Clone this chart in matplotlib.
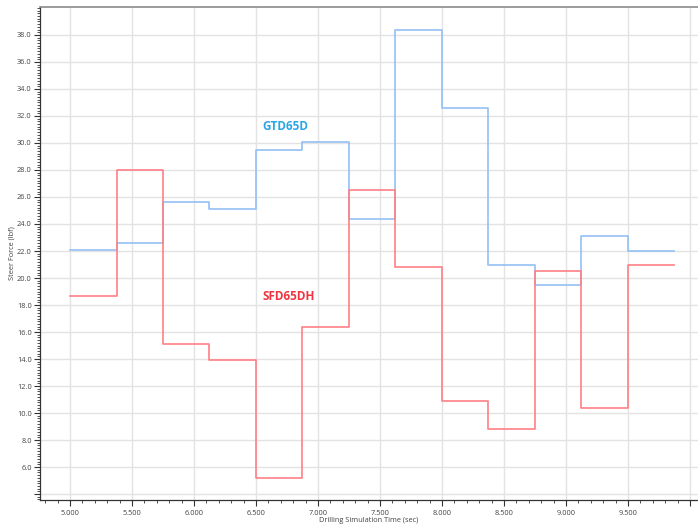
import numpy as np
import matplotlib
matplotlib.use("Agg")
import matplotlib.pyplot as plt
from matplotlib.ticker import MultipleLocator, FixedLocator, FixedFormatter

plt.rcParams["font.family"] = ["Open Sans", "DejaVu Sans"]

# step boundaries (sec) and steer force per interval (lbf)
time_edges = [5.0, 5.375, 5.75, 6.125, 6.5, 6.875, 7.25, 7.625, 8.0, 8.375, 8.75, 9.125, 9.5, 9.875]
gtd65d = [22.05, 22.6, 25.6, 25.1, 29.5, 30.1, 24.4, 38.4, 32.6, 21.0, 19.5, 23.1, 22.0]
sfd65dh = [18.7, 28.0, 15.1, 13.9, 5.2, 16.4, 26.5, 20.8, 10.9, 8.8, 20.5, 10.4, 21.0]

y_ticks = [4.0, 6.0, 8.0, 10.0, 12.0, 14.0, 16.0, 18.0, 20.0, 22.0, 24.0, 26.0, 28.0,
           30.0, 32.0, 34.0, 36.0, 38.0]
x_ticks = [5.0, 5.5, 6.0, 6.5, 7.0, 7.5, 8.0, 8.5, 9.0, 9.5, 10.0]

fig = plt.figure(figsize=(6.98, 5.27), dpi=100)
ax = fig.add_axes([40 / 698, 27 / 527, 658 / 698, 493 / 527])

blue = "#93c0f3"
red = "#ff7f85"
ax.step(time_edges, gtd65d + [gtd65d[-1]], where="post", color=blue, linewidth=1.2, zorder=3)
ax.step(time_edges, sfd65dh + [sfd65dh[-1]], where="post", color=red, linewidth=1.2, zorder=3)

ax.text(6.55, 31.25, "GTD65D", color="#2ba6e4", fontsize=8.5, fontweight="bold",
        ha="left", va="center")
ax.text(6.55, 18.6, "SFD65DH", color="#f0343f", fontsize=8.5, fontweight="bold",
        ha="left", va="center")

ax.set_xlim(4.758, 10.065)
ax.set_ylim(3.56, 40.07)

ax.xaxis.set_major_locator(FixedLocator(x_ticks))
ax.xaxis.set_major_formatter(FixedFormatter([f"{v:.3f}" for v in x_ticks[:-1]] + [""]))
ax.xaxis.set_minor_locator(MultipleLocator(0.1))
ax.yaxis.set_major_locator(FixedLocator(y_ticks))
ax.yaxis.set_major_formatter(FixedFormatter([""] + [f"{v:.1f}" for v in y_ticks[1:]]))
ax.yaxis.set_minor_locator(MultipleLocator(0.2))

ax.grid(True, which="major", color="#e3e3e3", linewidth=1.0, zorder=0)
ax.set_axisbelow(True)

tick_col = "#444444"
ax.tick_params(axis="both", which="major", length=4, width=0.8, color="#333333",
               labelsize=5.3, labelcolor=tick_col, pad=2)
ax.tick_params(axis="x", which="major", pad=3)
ax.tick_params(axis="both", which="minor", length=2, width=0.6, color="#333333")

for side in ["left", "bottom"]:
    ax.spines[side].set_color("#333333")
    ax.spines[side].set_linewidth(0.9)
ax.spines["top"].set_color("#8a8a8a")
ax.spines["top"].set_linewidth(1.2)
ax.spines["right"].set_visible(False)

ax.set_ylabel("Steer Force (lbf)", fontsize=5.3, color=tick_col)
ax.yaxis.set_label_coords((12 - 40) / 658, 0.5)
ax.set_xlabel("Drilling Simulation Time (sec)", fontsize=5.3, color=tick_col)
ax.xaxis.set_label_coords(0.5, (500 - 521) / 493)
ax.xaxis.label.set_va("center")
ax.yaxis.label.set_va("center")

fig.savefig("out.png", dpi=100)
